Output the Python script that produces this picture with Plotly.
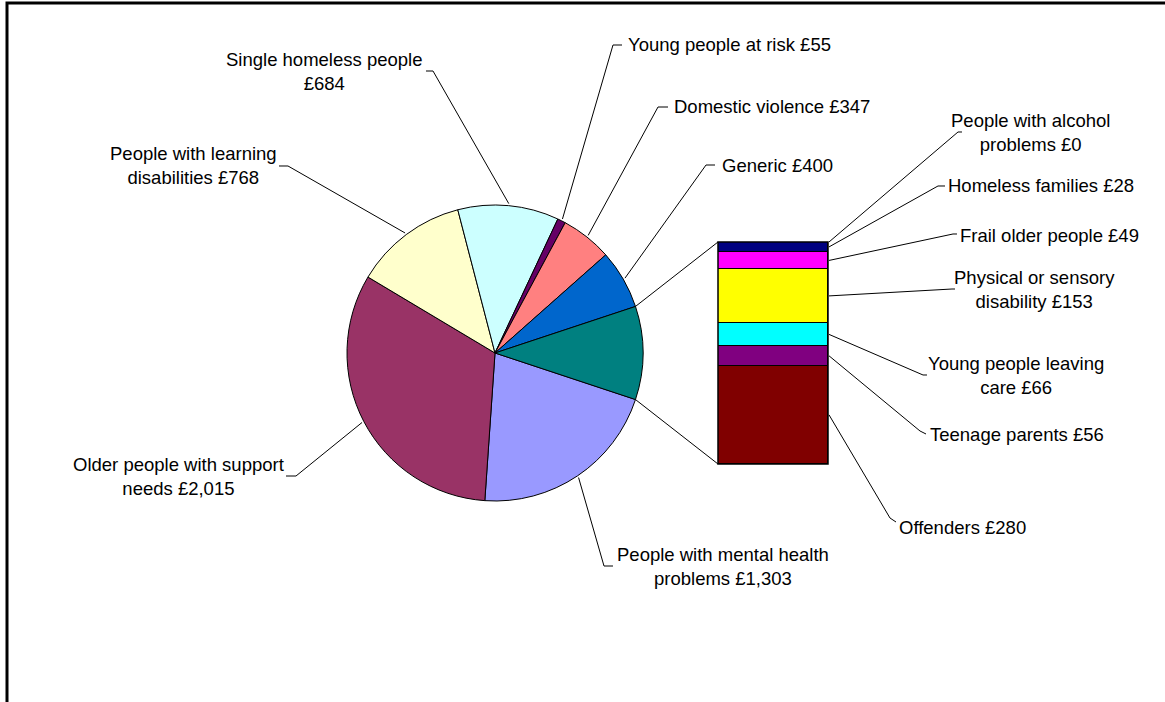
import math
import plotly.graph_objects as go

W, H = 1165, 702

# Pie slices (clockwise from the split slice)
pie_labels = [
    "People with mental health<br>problems",
    "Older people with support<br>needs",
    "People with learning<br>disabilities",
    "Single homeless people",
    "Young people at risk",
    "Domestic violence",
    "Generic",
]
pie_values = [1303, 2015, 768, 684, 55, 347, 400]
pie_colors = ["#9999FF", "#993366", "#FFFFCC", "#CCFFFF", "#660066", "#FF8080", "#0066CC"]
other_color = "#008080"

# Secondary bar, listed from top to bottom
bar_labels = [
    "People with alcohol<br>problems",
    "Homeless families",
    "Frail older people",
    "Physical or sensory<br>disability",
    "Young people leaving<br>care",
    "Teenage parents",
    "Offenders",
]
bar_values = [0, 28, 49, 153, 66, 56, 280]
bar_colors = ["#CCCCFF", "#000080", "#FF00FF", "#FFFF00", "#00FFFF", "#800080", "#800000"]

# value printed on its own line for these
own_line = {"Single homeless people"}

# geometry (pixels)
CX, CY, R = 495, 353, 148
BAR_L, BAR_R, BAR_T, BAR_B = 718, 828, 242, 464

# label placement: (x, y, xanchor) and leader (elbow, tick end)
pie_label_pos = [
    (723, 566, "center"), (178, 476, "center"), (193, 166, "center"),
    (324, 71, "center"), (626, 45, "left"), (672, 107, "left"), (720, 165, "left"),
]
pie_leader = [
    ((604, 566), (613, 566)), ((296, 476), (286, 476)), ((288, 166), (279, 166)),
    ((433, 71), (426, 71)), ((613, 45), (622, 45)), ((658, 107), (668, 107)),
    ((706, 165), (715, 165)),
]
bar_label_pos = [
    (1030, 132, "center"), (946, 186, "left"), (958, 235, "left"),
    (1034, 289, "center"), (1016, 375, "center"), (928, 434, "left"), (897, 527, "left"),
]
bar_leader = [
    ((958, 132), (962, 132)), ((938, 186), (945, 186)), ((953, 234), (957, 234)),
    ((952, 289), (955, 289)), ((923, 375), (927, 375)), ((920, 431), (926, 434)),
    ((890, 518), (896, 522)),
]

FONT = dict(family="Liberation Sans, Arial, sans-serif", size=18.5, color="#000000")


def px(x):
    return x / W


def py(y):
    return 1 - y / H


def fmt(v):
    return f"£{v:,}"


def label_text(name, v):
    return name + ("<br>" if name in own_line else " ") + fmt(v)


other_total = sum(bar_values)
total = sum(pie_values) + other_total
deg_per = 360.0 / total
other_span = other_total * deg_per
start = 90 + other_span / 2.0

fig = go.Figure()

fig.add_trace(go.Pie(
    values=pie_values + [other_total],
    labels=[l.replace("<br>", " ") for l in pie_labels] + ["Other"],
    marker=dict(colors=pie_colors + [other_color], line=dict(color="#000000", width=1)),
    sort=False,
    direction="clockwise",
    rotation=start,
    textinfo="none",
    hoverinfo="label+value",
    showlegend=False,
    domain=dict(x=[px(CX - R), px(CX + R)], y=[py(CY + R), py(CY - R)]),
))

# stacked bar, bottom segment first
for name, v, c in reversed(list(zip(bar_labels, bar_values, bar_colors))):
    fig.add_trace(go.Bar(
        x=[0], y=[v], name=name.replace("<br>", " "),
        marker=dict(color=c, line=dict(color="#000000", width=1)),
        showlegend=False, width=1,
    ))


def pie_point(angle_deg, r=R):
    a = math.radians(angle_deg)
    return CX + r * math.sin(a), CY - r * math.cos(a)


shapes = []
annotations = []


def path(points):
    d = "M " + " L ".join(f"{px(x):.6f},{py(y):.6f}" for x, y in points)
    return dict(type="path", path=d, xref="paper", yref="paper",
                line=dict(color="#000000", width=1))


# pie leaders and labels
ang = start
for name, v, pos, (elbow, tick) in zip(pie_labels, pie_values, pie_label_pos, pie_leader):
    span = v * deg_per
    mid = ang + span / 2.0
    ang += span
    shapes.append(path([pie_point(mid, R + 2), elbow, tick]))
    x, y, anchor = pos
    annotations.append(dict(x=px(x), y=py(y), xref="paper", yref="paper",
                            text=label_text(name, v), showarrow=False,
                            xanchor=anchor, yanchor="middle", align="center", font=FONT))

# connectors from split slice to bar
top_pt = pie_point(start - other_span)
bot_pt = pie_point(start)
shapes.append(path([top_pt, (BAR_L, BAR_T)]))
shapes.append(path([bot_pt, (BAR_L, BAR_B)]))

# bar leaders and labels
cum = 0
for name, v, pos, (elbow, tick) in zip(bar_labels, bar_values, bar_label_pos, bar_leader):
    mid_val = cum + v / 2.0
    cum += v
    y_mid = BAR_T + mid_val / other_total * (BAR_B - BAR_T)
    shapes.append(path([(BAR_R + 1, y_mid), elbow, tick]))
    x, y, anchor = pos
    annotations.append(dict(x=px(x), y=py(y), xref="paper", yref="paper",
                            text=label_text(name, v), showarrow=False,
                            xanchor=anchor, yanchor="middle", align="center", font=FONT))

# bar outline
shapes.append(dict(type="rect", xref="paper", yref="paper",
                   x0=px(BAR_L), x1=px(BAR_R), y0=py(BAR_B), y1=py(BAR_T),
                   line=dict(color="#000000", width=1.5), fillcolor="rgba(0,0,0,0)"))

# chart frame
shapes.append(dict(type="rect", xref="paper", yref="paper",
                   x0=px(7), x1=px(W + 20), y0=py(H + 20), y1=py(3),
                   line=dict(color="#000000", width=3), fillcolor="rgba(0,0,0,0)"))

fig.update_layout(
    width=W, height=H,
    margin=dict(l=0, r=0, t=0, b=0),
    paper_bgcolor="#FFFFFF", plot_bgcolor="rgba(0,0,0,0)",
    barmode="stack", bargap=0,
    xaxis=dict(domain=[px(BAR_L), px(BAR_R)], range=[-0.5, 0.5], visible=False, fixedrange=True),
    yaxis=dict(domain=[py(BAR_B), py(BAR_T)], range=[0, other_total], visible=False, fixedrange=True),
    shapes=shapes,
    annotations=annotations,
    font=FONT,
)

fig.write_html("out.html")
